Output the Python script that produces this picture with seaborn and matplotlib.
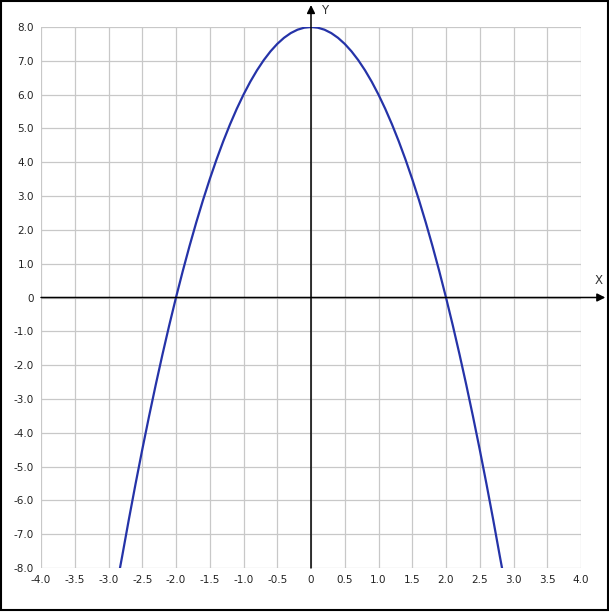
import numpy as np
import pandas as pd
import matplotlib
matplotlib.use("Agg")
import matplotlib.pyplot as plt
import seaborn as sns

# values
x_vals = [-2.83, -2.8, -2.7, -2.6, -2.5, -2.4, -2.3, -2.2, -2.1, -2.0,
          -1.9, -1.8, -1.7, -1.6, -1.5, -1.4, -1.3, -1.2, -1.1, -1.0,
          -0.9, -0.8, -0.7, -0.6, -0.5, -0.4, -0.3, -0.2, -0.1, 0.0,
          0.1, 0.2, 0.3, 0.4, 0.5, 0.6, 0.7, 0.8, 0.9, 1.0,
          1.1, 1.2, 1.3, 1.4, 1.5, 1.6, 1.7, 1.8, 1.9, 2.0,
          2.1, 2.2, 2.3, 2.4, 2.5, 2.6, 2.7, 2.8, 2.83]
y_vals = [-8.0, -7.68, -6.58, -5.52, -4.5, -3.52, -2.58, -1.68, -0.82, 0.0,
          0.78, 1.52, 2.22, 2.88, 3.5, 4.08, 4.62, 5.12, 5.58, 6.0,
          6.38, 6.72, 7.02, 7.28, 7.5, 7.68, 7.82, 7.92, 7.98, 8.0,
          7.98, 7.92, 7.82, 7.68, 7.5, 7.28, 7.02, 6.72, 6.38, 6.0,
          5.58, 5.12, 4.62, 4.08, 3.5, 2.88, 2.22, 1.52, 0.78, 0.0,
          -0.82, -1.68, -2.58, -3.52, -4.5, -5.52, -6.58, -7.68, -8.0]
x_ticks = [-4.0, -3.5, -3.0, -2.5, -2.0, -1.5, -1.0, -0.5, 0.0, 0.5, 1.0, 1.5, 2.0, 2.5, 3.0, 3.5, 4.0]
y_ticks = [-8.0, -7.0, -6.0, -5.0, -4.0, -3.0, -2.0, -1.0, 0.0, 1.0, 2.0, 3.0, 4.0, 5.0, 6.0, 7.0, 8.0]
x_label = "X"
y_label = "Y"

df = pd.DataFrame({"x": x_vals, "y": y_vals})

sns.set_theme(style="white")
plt.rcParams['font.family'] = ['DejaVu Sans']

fig = plt.figure(figsize=(6.09, 6.12), dpi=100)
ax = fig.add_axes([41 / 609, 44 / 612, 540 / 609, 541 / 612])

sns.lineplot(data=df, x="x", y="y", ax=ax, color="#2533a8", linewidth=1.6,
             sort=False, estimator=None, zorder=5)

ax.set_xlim(-4, 4)
ax.set_ylim(-8, 8)
ax.set_xticks(x_ticks)
ax.set_yticks(y_ticks)
ax.set_xticklabels(["0" if v == 0 else f"{v:.1f}" for v in x_ticks])
ax.set_yticklabels(["0" if v == 0 else f"{v:.1f}" for v in y_ticks])
ax.grid(True, color="#c8c8c8", linewidth=0.9)
ax.tick_params(axis="both", length=0, labelsize=7.5, colors="#222222")
ax.tick_params(axis="x", pad=5)
ax.tick_params(axis="y", pad=5)
for s in ax.spines.values():
    s.set_visible(False)
ax.set_xlabel("")
ax.set_ylabel("")

# axes with arrows
ax.annotate("", xy=(4.36, 0), xytext=(-4, 0), xycoords="data",
            arrowprops=dict(arrowstyle="-|>", color="black", lw=1.1,
                            mutation_scale=12, shrinkA=0, shrinkB=0),
            annotation_clip=False, zorder=6)
ax.annotate("", xy=(0, 8.65), xytext=(0, -8), xycoords="data",
            arrowprops=dict(arrowstyle="-|>", color="black", lw=1.1,
                            mutation_scale=12, shrinkA=0, shrinkB=0),
            annotation_clip=False, zorder=6)
ax.text(4.26, 0.3, x_label, fontsize=8.5, color="#333333", ha="center", va="bottom", clip_on=False)
ax.text(0.2, 8.5, y_label, fontsize=8.5, color="#333333", ha="center", va="center", clip_on=False)

# figure border
fig.patches.append(plt.Rectangle((0.001, 0.003), 0.997, 0.995, transform=fig.transFigure,
                                 fill=False, edgecolor="black", linewidth=1.5))

fig.savefig("out.png", dpi=100)
